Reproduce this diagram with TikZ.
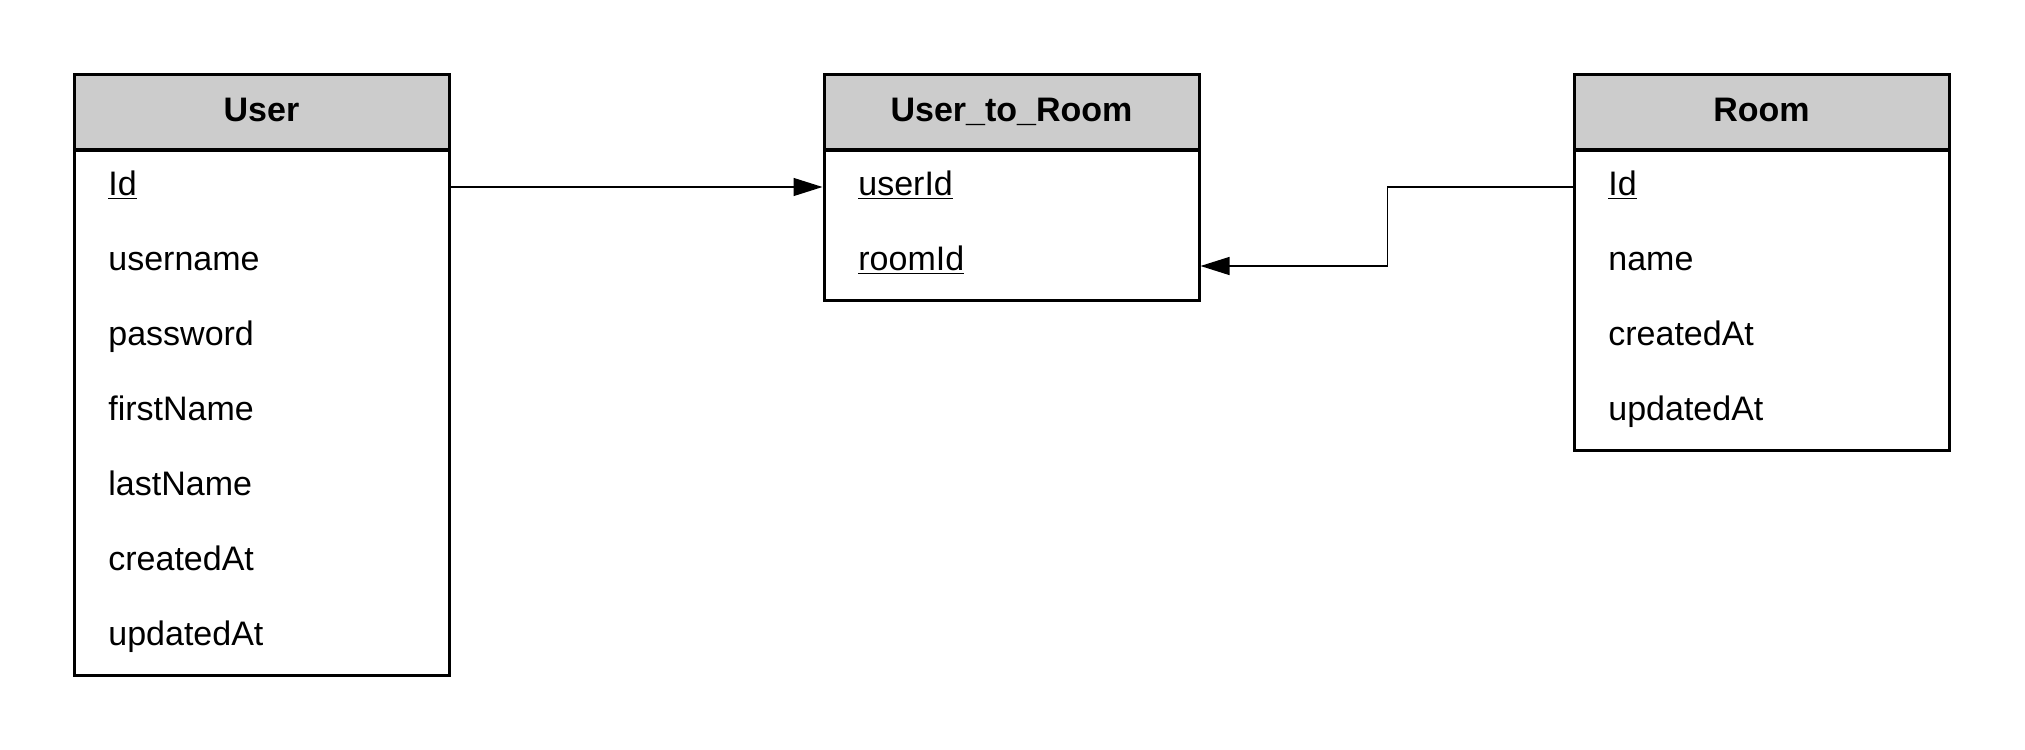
\documentclass[tikz,border=0pt]{standalone}
\usepackage{fontspec}
\setmainfont{Liberation Sans}
\usetikzlibrary{arrows.meta}
\definecolor{hdrgray}{HTML}{CCCCCC}
\begin{document}
\begin{tikzpicture}[x=0.5pt,y=-0.5pt,
  hdr/.style={draw,line width=1.5pt,fill=hdrgray,minimum width=187.5pt,minimum height=37.5pt,inner sep=0pt,
    font=\fontsize{17}{20}\selectfont\bfseries,text height=11pt,text depth=1.2pt},
  tbody/.style={draw,line width=1.5pt,fill=white,minimum width=187.5pt,inner sep=0pt,anchor=north},
  field/.style={anchor=base west,inner sep=0pt,font=\fontsize{17}{20}\selectfont,text height=11pt,text depth=3pt},
  conn/.style={line width=0.65pt},
  tip/.style={-{Triangle[length=14.5pt,width=9pt]}}]
\useasboundingbox (0,0) rectangle (2025,750);
% User
\node[tbody,minimum height=262.5pt] (ubody) at (261.5,149) {};
\node[hdr] (uhdr) at (261.5,111.5) {User};
\node[field] (u1) at (108,195) {\underline{Id}};
\node[field] (u2) at (108,270) {username};
\node[field] (u3) at (108,345) {password};
\node[field] (u4) at (108,420) {firstName};
\node[field] (u5) at (108,495) {lastName};
\node[field] (u6) at (108,570) {createdAt};
\node[field] (u7) at (108,645) {updatedAt};
% User_to_Room
\node[tbody,minimum height=75pt] (mbody) at (1011.5,149) {};
\node[hdr] (mhdr) at (1011.5,111.5) {User\_to\_Room};
\node[field] (m1) at (858,195) {\underline{userId}};
\node[field] (m2) at (858,270) {\underline{roomId}};
% Room
\node[tbody,minimum height=150pt] (rbody) at (1761.5,149) {};
\node[hdr] (rhdr) at (1761.5,111.5) {Room};
\node[field] (r1) at (1608,195) {\underline{Id}};
\node[field] (r2) at (1608,270) {name};
\node[field] (r3) at (1608,345) {createdAt};
\node[field] (r4) at (1608,420) {updatedAt};
% connectors
\draw[conn,tip] (ubody.east |- u1) -- (mbody.west |- m1);
\draw[conn,tip] (rbody.west |- r1) -- ++(-185,0) |- ([yshift=-2pt]mbody.east |- m2);
\end{tikzpicture}
\end{document}
